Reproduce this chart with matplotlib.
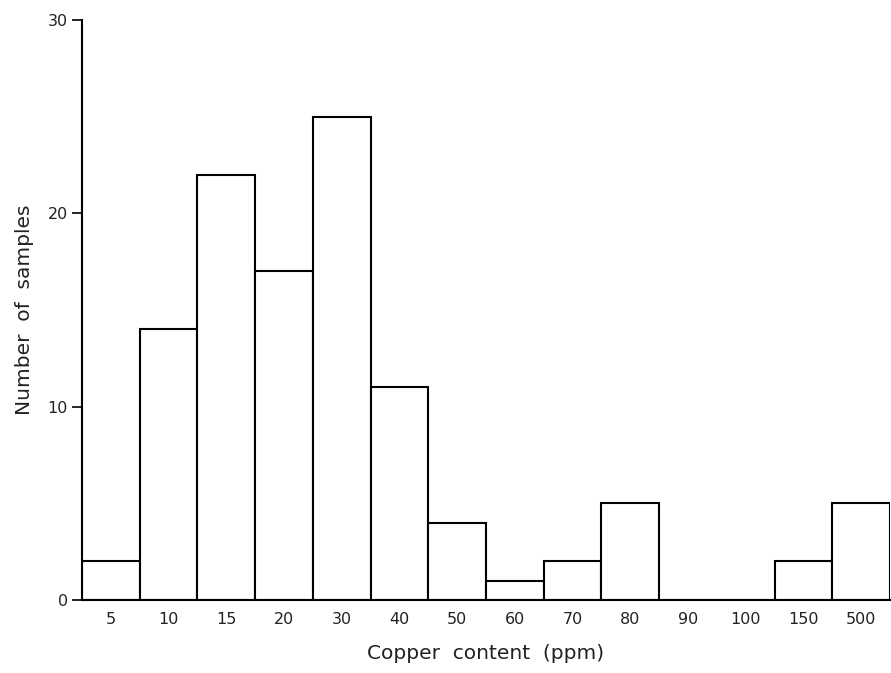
import matplotlib
matplotlib.use("Agg")
import matplotlib.pyplot as plt

# copper content classes (ppm) and sample counts
categories = ["5", "10", "15", "20", "30", "40", "50", "60", "70", "80", "90", "100", "150", "500"]
counts = [2, 14, 22, 17, 25, 11, 4, 1, 2, 5, 0, 0, 2, 5]
yticks = [0, 10, 20, 30]


def main():
    fig = plt.figure(figsize=(8.91, 6.73), dpi=100)
    ax = fig.add_axes([0.092, 0.1085, 0.907, 0.8615])

    x = list(range(len(categories)))
    ax.bar(x, counts, width=1.0, align="edge", facecolor="white",
           edgecolor="black", linewidth=1.5)

    ax.set_xlim(0, len(categories))
    ax.set_ylim(0, 30)
    ax.set_xticks([i + 0.5 for i in x])
    ax.set_xticklabels(categories, fontsize=11.5, color="#222222")
    ax.tick_params(axis="x", length=0, pad=9)
    ax.set_yticks(yticks)
    ax.set_yticklabels([str(v) for v in yticks], fontsize=11.5, color="#222222")
    ax.tick_params(axis="y", direction="out", length=7, width=1.2, pad=3)

    for s in ["top", "right"]:
        ax.spines[s].set_visible(False)
    for s in ["left", "bottom"]:
        ax.spines[s].set_linewidth(1.5)

    ax.set_xlabel("Copper  content  (ppm)", fontsize=14.5, labelpad=12, color="#222222")
    ax.set_ylabel("Number  of  samples", fontsize=14.5, labelpad=10, color="#222222")

    fig.savefig("out.png", dpi=100)


if __name__ == "__main__":
    main()
